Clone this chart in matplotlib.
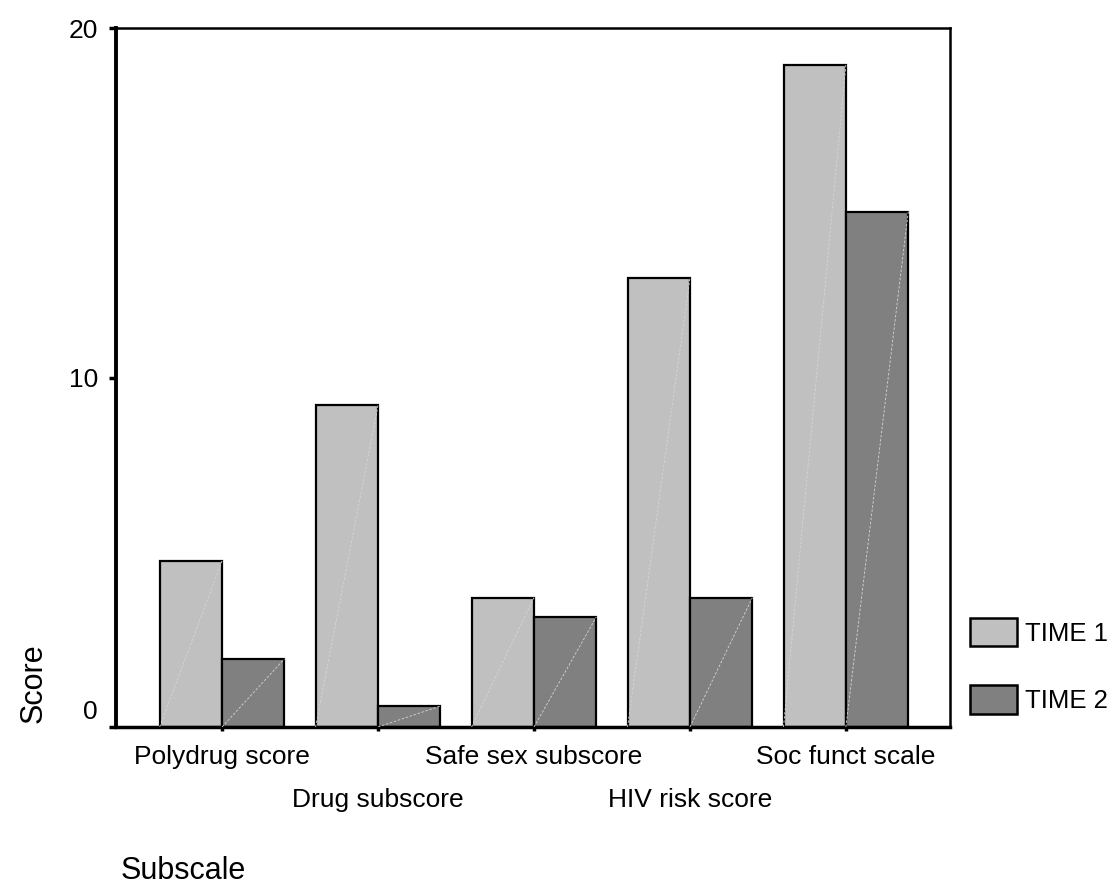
import numpy as np
import matplotlib
matplotlib.use("Agg")
import matplotlib.pyplot as plt
from matplotlib.patches import Patch
from matplotlib.transforms import ScaledTranslation

plt.rcParams.update({'font.family': ['Liberation Sans', 'DejaVu Sans'],
                     'font.size': 19})

subscales = ['Polydrug score', 'Drug subscore', 'Safe sex subscore',
             'HIV risk score', 'Soc funct scale']
time1 = [4.75, 9.2, 3.7, 12.85, 18.95]
time2 = [1.95, 0.6, 3.15, 3.7, 14.75]
series_names = ['TIME 1', 'TIME 2']
colors = ['#c0c0c0', '#808080']

fig = plt.figure(figsize=(11.13, 8.93), dpi=100)
ax = fig.add_axes([0.1042, 0.1859, 0.7493, 0.7827])

x = np.arange(len(subscales))
w = 0.4
for vals, off, col in [(time1, -w / 2, colors[0]), (time2, w / 2, colors[1])]:
    ax.bar(x + off, vals, width=w, color=col, edgecolor='black', linewidth=1.6)
    # faint diagonal streak inside each bar
    for xi, v in zip(x + off, vals):
        ax.plot([xi - w / 2, xi + w / 2], [0, v], color='#d6d6d6', lw=0.6,
                ls=(0, (3, 2)), zorder=3)

ax.set_xlim(-0.68, 4.667)
ax.set_ylim(0, 20)
ax.set_yticks([0, 10, 20])
ax.set_xticks(x)
ax.set_xticklabels(subscales)
ax.tick_params(axis='y', length=5, width=2.5, pad=8, labelsize=19)
ax.tick_params(axis='x', length=3, width=2.5, pad=10, labelsize=19)
for sp in ax.spines.values():
    sp.set_linewidth(1.8)
ax.spines['left'].set_linewidth(2.8)
ax.spines['bottom'].set_linewidth(2.5)

# SPSS lifts the zero label above its tick
zero_lbl = ax.get_yticklabels()[0]
zero_lbl.set_transform(zero_lbl.get_transform() + ScaledTranslation(0, 0.17, fig.dpi_scale_trans))
# staggered category labels
for i, lbl in enumerate(ax.get_xticklabels()):
    if i % 2 == 1:
        lbl.set_transform(lbl.get_transform() + ScaledTranslation(0, -0.43, fig.dpi_scale_trans))

handles = [Patch(facecolor=c, edgecolor='black', linewidth=1.8) for c in colors]
fig.legend(handles, series_names, loc='upper left', bbox_to_anchor=(0.8715, 0.308),
           frameon=False, borderpad=0, borderaxespad=0, handlelength=1.83,
           handleheight=1.32, labelspacing=1.52, handletextpad=0.31, fontsize=18.5)

fig.text(0.03, 0.235, 'Score', rotation=90, fontsize=22, va='center', ha='center')
fig.text(0.108, 0.008, 'Subscale', fontsize=22, va='bottom', ha='left')

fig.savefig('out.png', dpi=100)
